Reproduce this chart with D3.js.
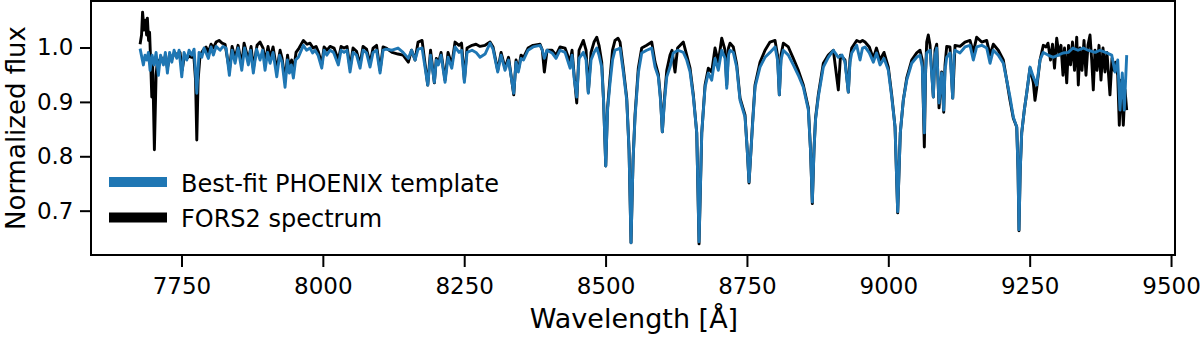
<!DOCTYPE html>
<html>
<head>
<meta charset="utf-8">
<script src="https://cdn.jsdelivr.net/npm/d3@7"></script>
<style>
  html, body { margin: 0; padding: 0; background: #fff; }
  svg { display: block; }
  text { font-family: "DejaVu Sans", sans-serif; fill: #000; }
</style>
</head>
<body>
<svg id="chart" width="1200" height="337"></svg>
<script>
// Best-fit PHOENIX model (wavelength in Å, normalized flux)
const templateWave = [7676.8,7682.6,7685.6,7688.6,7691.5,7694.5,7698.0,7701.6,7705.1,7709.2,7713.0,7718.0,7721.5,7725.1,7729.0,7732.9,7736.9,7741.7,7745.8,7750.5,7754.6,7759.4,7763.4,7768.2,7772.3,7777.1,7781.1,7785.9,7790.0,7797.6,7802.3,7806.4,7811.2,7818.3,7823.6,7828.9,7834.7,7839.5,7844.8,7850.1,7856.6,7861.6,7868.3,7872.2,7877.1,7882.8,7889.0,7893.4,7897.8,7902.3,7906.7,7912.0,7918.5,7923.5,7927.9,7933.2,7937.3,7940.8,7944.3,7947.9,7951.8,7956.7,7965.6,7971.2,7977.4,7981.8,7986.2,7991.5,7998.1,8002.2,8006.9,8012.8,8019.0,8027.4,8032.2,8037.5,8042.8,8048.1,8053.4,8059.6,8065.8,8071.1,8077.3,8083.5,8088.8,8095.0,8101.2,8106.5,8111.8,8122.4,8133.0,8141.9,8151.2,8156.9,8163.1,8168.4,8175.5,8185.5,8190.5,8197.2,8200.7,8204.3,8209.1,8216.1,8221.4,8228.0,8233.8,8240.9,8245.3,8250.3,8255.0,8263.9,8270.9,8278.0,8286.9,8295.7,8301.0,8309.3,8315.2,8322.2,8328.4,8337.6,8341.7,8345.7,8350.5,8354.9,8362.9,8371.7,8384.1,8388.2,8391.7,8396.5,8405.3,8412.4,8419.5,8428.3,8437.2,8440.7,8444.8,8449.0,8453.1,8460.7,8465.5,8469.5,8474.3,8479.6,8484.4,8488.4,8493.2,8496.4,8500.3,8503.5,8507.9,8512.3,8516.7,8522.0,8525.6,8531.4,8537.4,8541.5,8545.0,8548.6,8552.1,8557.9,8563.9,8572.8,8581.6,8587.5,8593.3,8597.2,8600.4,8604.3,8608.2,8614.0,8619.8,8628.1,8637.5,8643.5,8649.4,8655.2,8661.2,8665.3,8670.1,8675.9,8681.7,8687.7,8693.6,8699.4,8705.4,8711.3,8714.3,8717.4,8720.1,8725.9,8731.9,8737.8,8746.6,8750.5,8753.7,8757.2,8759.9,8764.3,8773.1,8782.0,8790.8,8799.7,8804.1,8807.3,8810.3,8814.3,8823.2,8832.0,8840.9,8849.7,8858.6,8862.4,8865.6,8868.6,8871.3,8876.2,8885.1,8893.9,8902.8,8911.6,8918.1,8923.4,8929.3,8932.3,8935.3,8944.1,8950.0,8954.4,8958.8,8966.4,8973.5,8979.1,8985.3,8992.4,9000.0,9006.0,9011.9,9016.6,9021.2,9026.5,9032.6,9041.4,9050.2,9056.1,9060.1,9063.7,9065.8,9067.9,9073.8,9079.6,9082.6,9085.6,9089.7,9094.4,9098.0,9100.3,9103.3,9109.1,9113.9,9116.2,9118.0,9126.8,9135.6,9144.5,9150.3,9156.3,9165.2,9174.0,9179.9,9185.7,9194.5,9203.4,9209.4,9215.2,9221.1,9227.1,9229.4,9231.1,9233.3,9235.9,9240.5,9244.7,9250.6,9256.4,9262.4,9268.3,9274.1,9282.4,9291.8,9300.6,9308.9,9318.3,9326.6,9335.5,9344.8,9353.1,9365.5,9374.4,9386.2,9395.1,9400.9,9405.7,9409.7,9413.8,9417.3,9421.6];
const templateFlux = [0.998,0.968,0.986,0.977,0.991,0.958,0.986,0.968,0.991,0.949,0.986,0.968,0.991,0.953,0.991,0.973,0.995,0.980,0.995,0.946,0.991,0.977,0.995,0.986,0.997,0.916,0.991,0.982,0.999,0.980,1.001,0.986,1.002,0.995,1.002,0.999,0.949,0.995,0.971,0.999,0.958,0.999,0.968,0.995,0.953,0.997,0.977,0.995,0.958,0.991,0.971,0.991,0.946,0.986,0.973,0.927,0.977,0.953,0.968,0.944,0.977,0.982,1.004,0.995,0.999,0.990,0.995,0.986,0.962,0.995,0.986,0.995,0.991,0.968,0.995,0.991,0.995,0.955,0.991,0.986,0.962,0.995,0.990,0.964,0.991,0.995,0.953,0.995,0.997,0.995,0.999,0.991,0.980,0.995,0.977,0.997,0.999,0.931,0.986,0.936,0.977,0.968,0.986,0.936,0.982,0.962,1.001,0.991,0.995,0.936,0.991,0.995,0.991,0.982,0.988,1.008,0.997,0.955,0.986,0.958,0.977,0.916,0.973,0.955,0.980,0.977,0.995,1.001,1.004,0.995,0.980,0.995,0.990,0.980,0.995,0.991,0.962,0.986,0.940,0.909,0.980,0.991,0.977,0.916,0.977,0.991,0.999,0.986,0.964,0.903,0.782,0.885,0.935,0.977,0.995,0.997,0.999,0.955,0.903,0.812,0.641,0.793,0.872,0.953,0.990,0.995,0.999,0.964,0.946,0.903,0.845,0.903,0.946,0.964,0.990,0.995,0.991,0.977,0.955,0.909,0.843,0.643,0.843,0.927,0.953,0.940,0.980,0.958,0.995,0.980,0.925,0.986,0.995,0.991,0.964,0.903,0.872,0.812,0.753,0.812,0.857,0.927,0.964,0.982,0.991,1.001,0.977,0.913,0.977,0.995,0.986,0.968,0.949,0.927,0.885,0.812,0.716,0.812,0.867,0.909,0.964,0.982,0.995,0.982,0.986,0.973,0.918,0.973,0.990,1.004,0.977,0.999,1.001,0.990,0.973,0.990,0.968,0.980,0.958,0.909,0.854,0.698,0.843,0.903,0.940,0.971,0.982,0.986,0.964,0.843,0.958,0.990,0.995,0.909,0.986,0.999,0.898,0.953,0.885,0.958,0.982,0.990,0.907,0.986,0.995,0.990,1.001,1.004,0.977,1.001,1.004,0.999,0.971,0.995,0.986,0.971,0.940,0.909,0.872,0.854,0.775,0.665,0.775,0.843,0.885,0.916,0.964,0.946,0.931,0.977,0.991,0.986,0.982,0.986,0.990,0.991,0.999,0.995,0.999,0.995,0.991,0.995,0.990,0.986,0.955,0.977,0.885,0.953,0.885,0.986];

// FORS2 observed spectrum (wavelength in Å, normalized flux)
const forsWave = [7676.8,7679.4,7681.2,7683.9,7686.5,7688.3,7689.7,7691.8,7693.6,7695.4,7697.5,7698.9,7702.1,7705.1,7707.7,7710.4,7713.9,7718.0,7721.9,7725.1,7729.8,7733.4,7737.8,7742.2,7747.5,7751.1,7755.5,7759.4,7763.4,7768.2,7771.4,7774.9,7777.1,7779.4,7782.9,7788.2,7793.5,7797.6,7802.3,7806.4,7811.2,7816.5,7821.8,7827.1,7834.7,7839.5,7844.8,7850.1,7856.6,7860.7,7868.3,7873.1,7877.1,7883.7,7889.0,7894.3,7897.8,7903.1,7906.7,7912.0,7918.5,7924.4,7927.9,7933.2,7937.6,7940.8,7944.7,7947.9,7952.6,7958.0,7965.6,7972.1,7977.4,7982.7,7988.0,7992.4,7998.1,8002.2,8007.5,8012.8,8019.8,8027.4,8032.2,8037.5,8042.8,8048.1,8053.4,8059.6,8065.8,8071.1,8077.3,8083.5,8088.8,8095.0,8101.2,8106.5,8111.8,8122.4,8133.0,8141.9,8151.2,8156.9,8163.1,8168.4,8175.5,8185.5,8190.5,8197.2,8200.7,8204.3,8209.1,8216.1,8221.4,8228.0,8233.8,8240.9,8245.3,8250.3,8255.0,8263.9,8270.9,8278.0,8286.9,8295.7,8301.0,8309.3,8315.2,8322.2,8328.4,8337.6,8341.7,8345.7,8350.5,8354.9,8362.9,8371.7,8384.1,8388.2,8391.7,8396.5,8405.3,8412.4,8419.5,8428.3,8437.2,8440.7,8444.8,8449.0,8453.1,8460.7,8465.5,8469.5,8474.3,8479.6,8484.4,8488.4,8493.2,8496.4,8500.3,8503.5,8507.9,8512.3,8516.7,8522.0,8525.6,8531.4,8537.4,8541.5,8545.0,8548.6,8552.1,8557.9,8563.9,8572.8,8581.6,8587.5,8593.3,8597.2,8600.4,8604.3,8608.2,8614.0,8617.5,8622.8,8627.3,8637.5,8643.5,8649.4,8655.2,8661.2,8665.3,8670.1,8675.9,8681.7,8687.7,8693.6,8699.4,8705.4,8711.3,8714.3,8717.4,8720.1,8725.9,8731.9,8737.8,8746.6,8750.5,8753.7,8757.2,8759.9,8764.3,8773.1,8782.0,8790.8,8799.7,8804.1,8807.3,8810.3,8814.3,8823.2,8832.0,8840.9,8849.7,8858.6,8862.4,8865.6,8868.6,8871.3,8876.2,8885.1,8893.9,8902.8,8911.6,8915.5,8923.4,8929.3,8932.3,8935.3,8944.1,8950.0,8954.4,8958.8,8966.4,8973.5,8979.1,8985.3,8992.4,9000.0,9006.0,9011.9,9016.6,9021.2,9026.5,9032.6,9041.4,9050.2,9056.1,9060.1,9063.7,9065.8,9067.9,9070.7,9073.8,9079.6,9082.6,9085.6,9089.7,9094.4,9098.0,9100.3,9103.3,9109.1,9113.9,9118.0,9126.8,9135.6,9144.5,9150.3,9156.3,9165.2,9174.0,9179.9,9185.7,9194.5,9203.4,9209.4,9215.2,9221.1,9227.1,9229.4,9231.1,9233.3,9235.9,9240.5,9244.7,9250.6,9256.4,9259.4,9262.4,9268.3,9274.1,9278.9,9282.4,9286.8,9290.4,9293.9,9297.8,9301.9,9305.4,9308.9,9311.6,9315.5,9318.7,9322.2,9325.7,9329.3,9333.2,9336.0,9339.0,9342.5,9346.1,9349.6,9353.1,9356.7,9359.7,9362.5,9365.5,9369.1,9372.6,9376.1,9379.7,9383.2,9386.7,9392.0,9395.6,9399.1,9401.8,9405.7,9408.5,9411.5,9415.6,9418.6,9421.6];
const forsFlux = [1.006,1.023,1.065,1.032,1.050,1.023,1.054,1.013,1.028,0.977,0.909,0.977,0.812,0.949,0.977,0.968,0.982,0.971,0.986,0.962,0.986,0.980,0.991,0.986,0.991,0.958,0.986,0.980,0.984,0.982,0.991,0.940,0.830,0.940,0.986,0.995,1.001,0.991,1.006,0.999,1.010,1.013,1.008,1.006,0.958,1.002,0.980,1.004,0.968,1.008,0.977,1.002,0.962,1.004,1.010,0.999,0.973,1.002,0.980,1.001,0.958,0.995,0.980,0.940,0.986,0.962,0.977,0.955,0.991,0.999,1.013,1.006,1.008,0.999,1.002,0.991,0.969,1.001,0.995,1.002,0.999,0.977,1.002,0.999,1.002,0.962,0.999,0.993,0.969,1.002,0.997,0.971,0.999,1.004,0.958,1.001,0.999,0.991,0.988,0.986,0.973,0.995,0.977,1.010,1.013,0.931,0.995,0.935,0.980,0.971,0.991,0.940,0.991,0.968,1.010,1.004,1.008,0.940,0.999,1.004,1.006,1.002,1.004,1.010,1.001,0.958,0.991,0.962,0.982,0.913,0.977,0.958,0.986,0.982,0.999,1.004,1.006,0.995,0.955,0.995,0.995,0.986,1.001,0.999,0.973,0.995,0.944,0.898,0.995,1.013,0.995,0.918,0.991,1.010,1.019,1.004,0.973,0.903,0.782,0.889,0.944,0.995,1.013,1.017,1.010,0.962,0.907,0.812,0.641,0.793,0.876,0.962,0.999,1.004,1.010,0.973,0.951,0.907,0.845,0.909,0.958,0.986,0.995,0.955,0.999,1.010,0.986,0.962,0.913,0.843,0.639,0.843,0.931,0.962,0.955,0.999,0.973,1.017,0.995,0.931,0.999,1.008,1.001,0.969,0.907,0.876,0.812,0.751,0.812,0.861,0.931,0.973,0.995,1.010,1.013,0.986,0.913,0.986,1.008,1.001,0.980,0.958,0.931,0.889,0.812,0.713,0.812,0.870,0.913,0.971,0.986,0.995,0.922,0.986,0.977,0.918,0.980,0.999,1.013,1.010,1.013,1.010,1.001,0.980,0.999,0.977,0.991,0.964,0.913,0.854,0.696,0.843,0.903,0.944,0.977,0.990,0.995,0.977,0.817,0.949,1.010,1.023,1.004,0.909,0.995,1.006,0.889,0.955,0.881,0.968,1.002,1.001,0.907,1.004,1.002,1.010,1.013,0.991,1.019,1.010,1.013,0.986,1.006,0.995,0.977,0.940,0.903,0.870,0.854,0.775,0.663,0.775,0.843,0.885,0.916,0.962,0.936,0.903,0.925,0.977,1.004,1.001,1.008,0.977,1.006,0.962,1.017,0.986,1.004,0.949,0.999,0.935,1.004,0.968,1.010,0.958,1.019,0.931,0.999,0.958,1.013,0.949,1.004,1.023,0.977,0.922,0.995,0.958,1.004,0.940,0.999,0.955,0.991,0.913,0.980,0.958,0.973,0.949,0.857,0.940,0.857,0.922,0.885];

const xTicks = [7750, 8000, 8250, 8500, 8750, 9000, 9250, 9500];
const yTicks = [0.7, 0.8, 0.9, 1.0];
const seriesNames = ["Best-fit PHOENIX template", "FORS2 spectrum"];
const seriesColors = ["#1f77b4", "#000000"];

const svg = d3.select("#chart");
const plot = { left: 91, right: 1175, top: 1, bottom: 255 };

const x = d3.scaleLinear().domain([7590, 9507]).range([plot.left, plot.right]);
const y = d3.scaleLinear().domain([0.6185, 1.0855]).range([plot.bottom, plot.top]);

const clipId = "plot-clip";
svg.append("defs").append("clipPath").attr("id", clipId)
  .append("rect")
  .attr("x", plot.left).attr("y", plot.top)
  .attr("width", plot.right - plot.left).attr("height", plot.bottom - plot.top);

const line = d3.line()
  .x(d => x(d[0]))
  .y(d => y(d[1]));

const forsData = forsWave.map((w, i) => [w, forsFlux[i]]);
const templateData = templateWave.map((w, i) => [w, templateFlux[i]]);

// Observed spectrum underneath, model on top
const lines = svg.append("g").attr("clip-path", `url(#${clipId})`);
lines.append("path")
  .datum(forsData)
  .attr("d", line)
  .attr("fill", "none")
  .attr("stroke", seriesColors[1])
  .attr("stroke-width", 2.9)
  .attr("stroke-linejoin", "round");
lines.append("path")
  .datum(templateData)
  .attr("d", line)
  .attr("fill", "none")
  .attr("stroke", seriesColors[0])
  .attr("stroke-width", 2.9)
  .attr("stroke-linejoin", "round");

// Axes
const xAxis = d3.axisBottom(x).tickValues(xTicks).tickFormat(d3.format("d"))
  .tickSize(12).tickPadding(11);
const yAxis = d3.axisLeft(y).tickValues(yTicks).tickFormat(d3.format(".1f"))
  .tickSize(11).tickPadding(6.5);

const gx = svg.append("g").attr("transform", `translate(0,${plot.bottom})`).call(xAxis);
const gy = svg.append("g").attr("transform", `translate(${plot.left},0)`).call(yAxis);
[gx, gy].forEach(g => {
  g.select(".domain").remove();
  g.selectAll(".tick line").attr("stroke", "#000").attr("stroke-width", 2);
  g.selectAll(".tick text").attr("font-size", 23).attr("font-family", "DejaVu Sans").attr("fill", "#000");
});

// Frame
svg.append("rect")
  .attr("x", plot.left).attr("y", plot.top)
  .attr("width", plot.right - plot.left).attr("height", plot.bottom - plot.top)
  .attr("fill", "none").attr("stroke", "#000").attr("stroke-width", 2);

// Axis labels
svg.append("text")
  .attr("x", (plot.left + plot.right) / 2 + 1)
  .attr("y", 328)
  .attr("text-anchor", "middle")
  .attr("font-size", 27)
  .text("Wavelength [Å]");

svg.append("text")
  .attr("transform", `translate(24.5,${(plot.top + plot.bottom) / 2}) rotate(-90)`)
  .attr("text-anchor", "middle")
  .attr("font-size", 26)
  .text("Normalized flux");

// Legend
const legend = svg.append("g");
seriesNames.forEach((name, i) => {
  const cy = 182 + i * 35.5;
  legend.append("line")
    .attr("x1", 109).attr("x2", 167)
    .attr("y1", cy).attr("y2", cy)
    .attr("stroke", seriesColors[i]).attr("stroke-width", 10);
  legend.append("text")
    .attr("x", 181).attr("y", cy + 9.5)
    .attr("font-size", 24)
    .text(name);
});
</script>
</body>
</html>
